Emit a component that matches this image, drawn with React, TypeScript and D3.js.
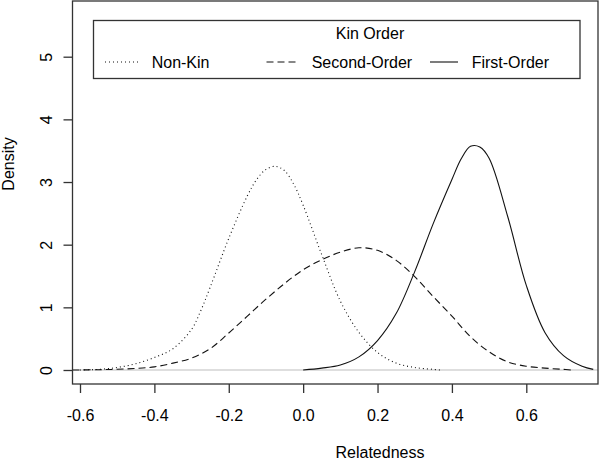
import React, { useEffect, useRef } from 'react';
import * as d3 from 'd3';

// density curves (relatedness, density)
const nonKinX = [-0.6, -0.55, -0.5, -0.45, -0.4, -0.35, -0.3, -0.275, -0.25, -0.2, -0.15, -0.125, -0.1, -0.075, -0.05, -0.025, 0.0, 0.05, 0.1, 0.15, 0.2, 0.25, 0.3, 0.35, 0.37];
const nonKinY = [0.0, 0.01, 0.04, 0.1, 0.2, 0.34, 0.65, 0.95, 1.32, 2.1, 2.78, 3.04, 3.2, 3.25, 3.18, 2.96, 2.63, 1.84, 1.1, 0.6, 0.28, 0.11, 0.04, 0.01, 0.0];

const secondX = [-0.62, -0.55, -0.5, -0.45, -0.4, -0.35, -0.3, -0.25, -0.2, -0.15, -0.1, -0.05, 0.0, 0.05, 0.1, 0.15, 0.2, 0.25, 0.3, 0.35, 0.4, 0.45, 0.5, 0.55, 0.6, 0.65, 0.7, 0.72];
const secondY = [0.0, 0.005, 0.012, 0.025, 0.05, 0.11, 0.19, 0.34, 0.59, 0.86, 1.13, 1.38, 1.6, 1.76, 1.88, 1.95, 1.91, 1.75, 1.49, 1.17, 0.86, 0.53, 0.29, 0.13, 0.06, 0.03, 0.01, 0.0];

const firstX = [0.0, 0.05, 0.1, 0.15, 0.2, 0.25, 0.3, 0.35, 0.4, 0.425, 0.45, 0.475, 0.5, 0.55, 0.6, 0.65, 0.7, 0.75, 0.78];
const firstY = [0.0, 0.03, 0.08, 0.21, 0.47, 0.9, 1.57, 2.34, 3.04, 3.37, 3.57, 3.56, 3.38, 2.45, 1.35, 0.6, 0.23, 0.06, 0.01];

const xTicks = [-0.6, -0.4, -0.2, 0, 0.2, 0.4, 0.6];
const xTickLabels = ['-0.6', '-0.4', '-0.2', '0.0', '0.2', '0.4', '0.6'];
const yTicks = [0, 1, 2, 3, 4, 5];

const seriesNames = ['Non-Kin', 'Second-Order', 'First-Order'];
const seriesDash = ['1,3', '7,4', null];

const WIDTH = 600;
const HEIGHT = 460;
const BOX = { left: 72.5, right: 598, top: 1, bottom: 384 };
const FONT = '"Liberation Sans", Arial, Helvetica, sans-serif';

const App = () => {
  const ref = useRef<SVGSVGElement>(null);

  useEffect(() => {
    const svg = d3.select(ref.current);
    svg.selectAll('*').remove();

    const x = d3.scaleLinear().domain([-0.6, 0.6]).range([80, 526.3]);
    const y = d3.scaleLinear().domain([0, 5]).range([370, 56.7]);

    // zero reference line
    svg.append('line')
      .attr('x1', BOX.left).attr('x2', BOX.right)
      .attr('y1', y(0)).attr('y2', y(0))
      .attr('stroke', '#bdbdbd').attr('stroke-width', 1.2);

    const line = d3.line<[number, number]>()
      .x(d => x(d[0]))
      .y(d => y(d[1]))
      .curve(d3.curveCatmullRom.alpha(0.5));

    const series = [
      nonKinX.map((v, i) => [v, nonKinY[i]] as [number, number]),
      secondX.map((v, i) => [v, secondY[i]] as [number, number]),
      firstX.map((v, i) => [v, firstY[i]] as [number, number]),
    ];

    series.forEach((pts, i) => {
      svg.append('path')
        .attr('d', line(pts))
        .attr('fill', 'none')
        .attr('stroke', '#111')
        .attr('stroke-width', 1.1)
        .attr('stroke-dasharray', seriesDash[i]);
    });

    // box
    svg.append('rect')
      .attr('x', BOX.left).attr('y', BOX.top)
      .attr('width', BOX.right - BOX.left).attr('height', BOX.bottom - BOX.top)
      .attr('fill', 'none').attr('stroke', '#333').attr('stroke-width', 1.3);

    // x axis
    const xAxis = svg.append('g')
      .attr('transform', `translate(0,${BOX.bottom})`)
      .call(d3.axisBottom(x).tickValues(xTicks).tickSize(9).tickFormat((d, i) => xTickLabels[i]));
    xAxis.select('.domain').remove();
    xAxis.selectAll('line').attr('stroke', '#333').attr('stroke-width', 1.3);
    xAxis.selectAll('text')
      .attr('y', 36.5).attr('dy', 0)
      .attr('fill', '#000')
      .style('font-family', FONT).style('font-size', '16px');

    // y axis
    const yAxis = svg.append('g')
      .attr('transform', `translate(${BOX.left},0)`)
      .call(d3.axisLeft(y).tickValues(yTicks).tickSize(9).tickFormat(d3.format('d')));
    yAxis.select('.domain').remove();
    yAxis.selectAll('line').attr('stroke', '#333').attr('stroke-width', 1.3);
    yAxis.selectAll('text')
      .attr('x', 0).attr('dy', 0)
      .attr('text-anchor', 'middle')
      .attr('transform', 'translate(-21,0) rotate(-90)')
      .attr('fill', '#000')
      .style('font-family', FONT).style('font-size', '16px');

    // axis titles
    svg.append('text')
      .attr('x', 380).attr('y', 458)
      .attr('text-anchor', 'middle')
      .style('font-family', FONT).style('font-size', '16px')
      .text('Relatedness');

    svg.append('text')
      .attr('transform', 'translate(14,164) rotate(-90)')
      .attr('text-anchor', 'middle')
      .style('font-family', FONT).style('font-size', '16px')
      .text('Density');

    // legend
    const legend = svg.append('g');
    legend.append('rect')
      .attr('x', 93.5).attr('y', 20.5)
      .attr('width', 486.5).attr('height', 58)
      .attr('fill', 'white').attr('stroke', '#333').attr('stroke-width', 1.3);
    legend.append('text')
      .attr('x', 370).attr('y', 39)
      .attr('text-anchor', 'middle')
      .style('font-family', FONT).style('font-size', '16px')
      .text('Kin Order');

    const legendLineX = [105, 266.5, 430];
    const legendLen = [33, 29, 28];
    const legendTextX = [151.7, 311.7, 471.7];
    seriesNames.forEach((name, i) => {
      legend.append('line')
        .attr('x1', legendLineX[i]).attr('x2', legendLineX[i] + legendLen[i])
        .attr('y1', 62).attr('y2', 62)
        .attr('stroke', '#111').attr('stroke-width', 1.1)
        .attr('stroke-dasharray', seriesDash[i]);
      legend.append('text')
        .attr('x', legendTextX[i]).attr('y', 67.5)
        .style('font-family', FONT).style('font-size', '16px')
        .text(name);
    });
  }, []);

  return (
    <div style={{ position: 'absolute', left: 0, top: 0, background: 'white' }}>
      <svg ref={ref} width={WIDTH} height={HEIGHT} style={{ display: 'block' }} />
    </div>
  );
};

export default App;
